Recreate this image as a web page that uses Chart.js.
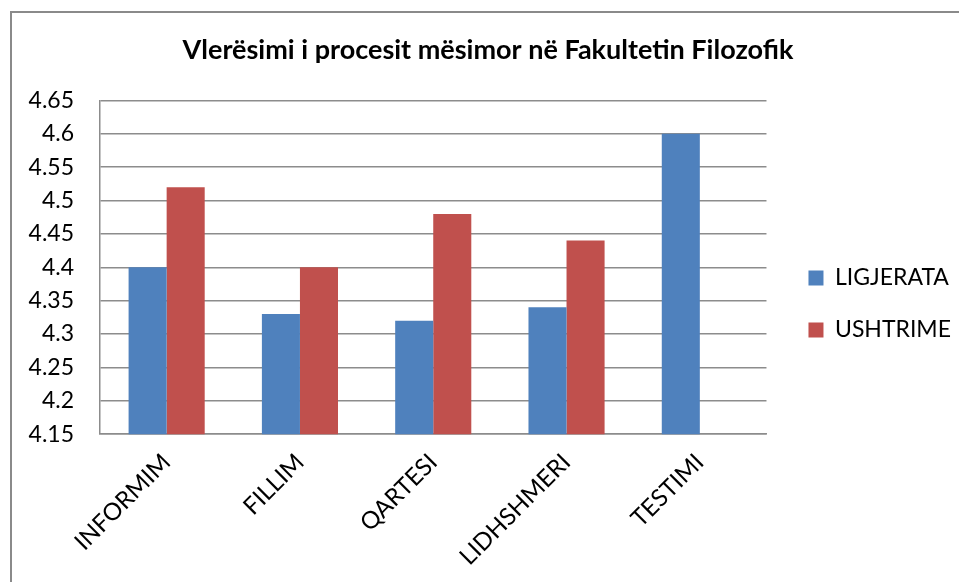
<!DOCTYPE html>
<html>
<head>
<meta charset="utf-8">
<script src="https://cdn.jsdelivr.net/npm/chart.js@4/dist/chart.umd.min.js"></script>
<style>
  html, body { margin: 0; padding: 0; background: #fff; overflow: hidden; }
  #frame {
    position: absolute; left: 10px; top: 11px;
    width: 960px; height: 580px;
    border-left: 2px solid #8a8a8a; border-top: 2px solid #8a8a8a;
  }
  #wrap { position: absolute; left: 0; top: 0; width: 960px; height: 580px; }
</style>
</head>
<body>
<div id="frame"><div id="wrap"><canvas id="myChart1"></canvas></div></div>
<script>
var titleText = 'Vlerësimi i procesit mësimor në Fakultetin Filozofik';
var categories = ['INFORMIM', 'FILLIM', 'QARTESI', 'LIDHSHMERI', 'TESTIMI'];
var ligjerata = [4.40, 4.33, 4.32, 4.34, 4.60];
var ushtrime = [4.52, 4.40, 4.48, 4.44, null];
var yMin = 4.15, yMax = 4.65, yStep = 0.05;

document.addEventListener('DOMContentLoaded', function () {
    var ctx = document.getElementById('myChart1');
    var font = 'Lato, "Open Sans", sans-serif';

    // nudge the legend to the right so it sits away from the plot, like the original
    var legendShift = {
        id: 'legendShift',
        afterLayout: function (chart) {
            var lg = chart.legend;
            if (lg) {
                lg.left += 13;
                lg.right += 13;
            }
        }
    };

    new Chart(ctx, {
        type: 'bar',
        data: {
            labels: categories,
            datasets: [
                {
                    label: 'LIGJERATA',
                    data: ligjerata,
                    backgroundColor: '#4F81BD',
                    borderWidth: 0
                },
                {
                    label: 'USHTRIME',
                    data: ushtrime,
                    backgroundColor: '#C0504D',
                    borderWidth: 0
                }
            ]
        },
        plugins: [legendShift],
        options: {
            responsive: true,
            maintainAspectRatio: false,
            animation: false,
            datasets: {
                bar: { categoryPercentage: 0.571, barPercentage: 1.0 }
            },
            layout: { padding: { left: 16, right: 24, top: 10, bottom: 8 } },
            plugins: {
                title: {
                    display: true,
                    text: titleText,
                    color: '#000',
                    font: { family: font, size: 27, weight: 'bold' },
                    padding: { top: 11, bottom: 34 }
                },
                legend: {
                    position: 'right',
                    labels: {
                        color: '#000',
                        font: { family: font, size: 23 },
                        boxWidth: 15,
                        boxHeight: 15,
                        padding: 29
                    }
                },
                tooltip: { enabled: false }
            },
            scales: {
                y: {
                    min: yMin,
                    max: yMax,
                    afterFit: function (scale) {
                        scale.width = 72;
                    },
                    ticks: {
                        stepSize: yStep,
                        color: '#000',
                        font: { family: font, size: 23 },
                        padding: 26,
                        callback: function (value) {
                            return String(Math.round(value * 100) / 100);
                        }
                    },
                    grid: { color: '#8c8c8c', lineWidth: 1.5, drawTicks: false },
                    border: { color: '#8c8c8c', width: 1.5 }
                },
                x: {
                    afterFit: function (scale) {
                        scale.paddingLeft = 0;
                        scale.paddingRight = 0;
                    },
                    ticks: {
                        color: '#000',
                        font: { family: font, size: 24 },
                        minRotation: 45,
                        maxRotation: 45,
                        padding: 14
                    },
                    grid: { display: false, drawTicks: false },
                    border: { color: '#8c8c8c', width: 1.5 }
                }
            }
        }
    });
});
</script>
</body>
</html>
